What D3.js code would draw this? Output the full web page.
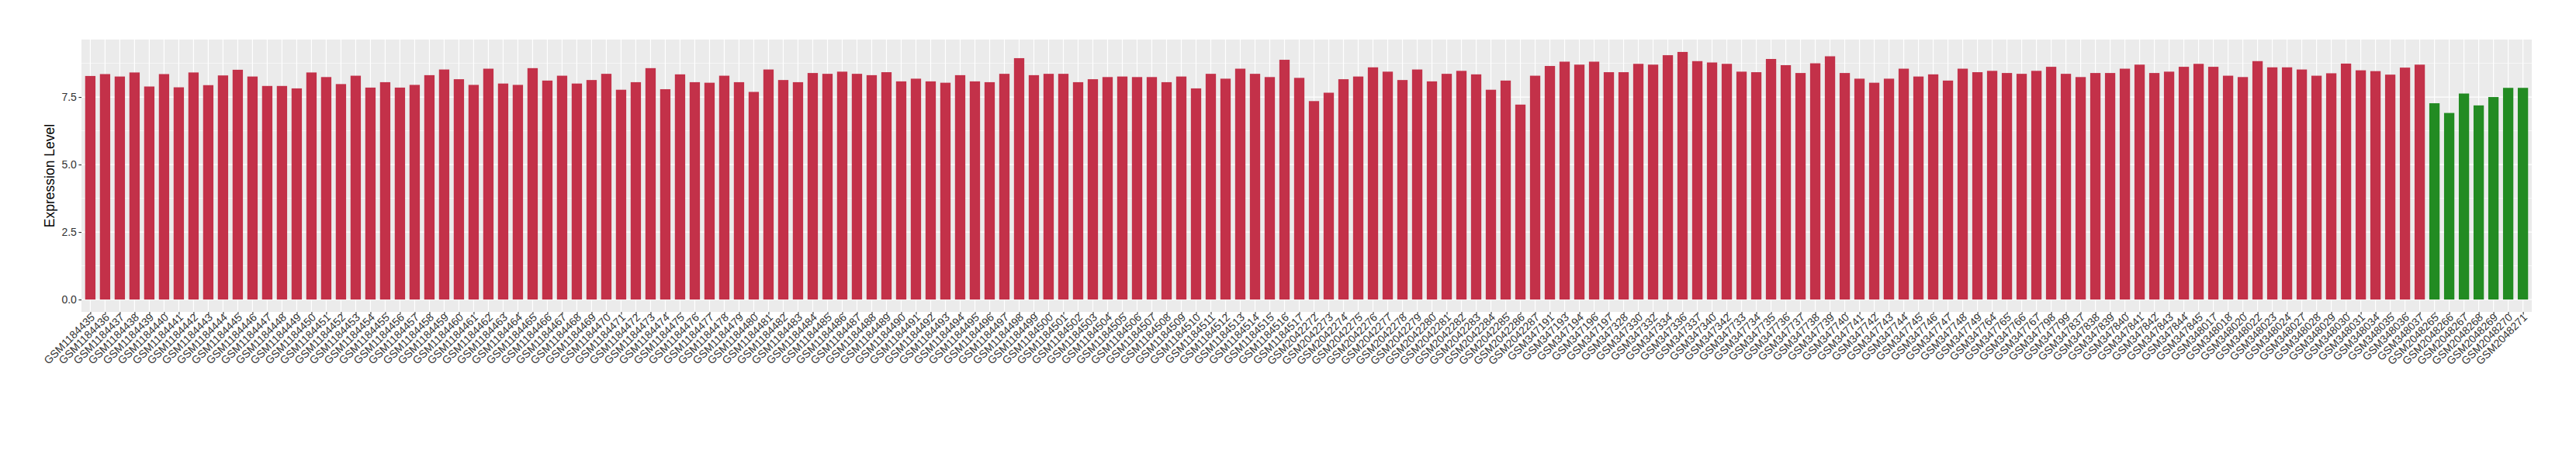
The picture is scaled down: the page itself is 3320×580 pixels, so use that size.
<!DOCTYPE html>
<html>
<head>
<meta charset="utf-8">
<script src="https://cdn.jsdelivr.net/npm/d3@7"></script>
<style>
  html, body { margin: 0; padding: 0; background: #ffffff; }
  svg { display: block; }
</style>
</head>
<body>
<svg id="chart" width="3320" height="580"></svg>
<script>
// ---------------- DATA ----------------
const tumorSamples = [
  "GSM1184435","GSM1184436","GSM1184437","GSM1184438","GSM1184439","GSM1184440","GSM1184441","GSM1184442","GSM1184443","GSM1184444",
  "GSM1184445","GSM1184446","GSM1184447","GSM1184448","GSM1184449","GSM1184450","GSM1184451","GSM1184452","GSM1184453","GSM1184454",
  "GSM1184455","GSM1184456","GSM1184457","GSM1184458","GSM1184459","GSM1184460","GSM1184461","GSM1184462","GSM1184463","GSM1184464",
  "GSM1184465","GSM1184466","GSM1184467","GSM1184468","GSM1184469","GSM1184470","GSM1184471","GSM1184472","GSM1184473","GSM1184474",
  "GSM1184475","GSM1184476","GSM1184477","GSM1184478","GSM1184479","GSM1184480","GSM1184481","GSM1184482","GSM1184483","GSM1184484",
  "GSM1184485","GSM1184486","GSM1184487","GSM1184488","GSM1184489","GSM1184490","GSM1184491","GSM1184492","GSM1184493","GSM1184494",
  "GSM1184495","GSM1184496","GSM1184497","GSM1184498","GSM1184499","GSM1184500","GSM1184501","GSM1184502","GSM1184503","GSM1184504",
  "GSM1184505","GSM1184506","GSM1184507","GSM1184508","GSM1184509","GSM1184510","GSM1184511","GSM1184512","GSM1184513","GSM1184514",
  "GSM1184515","GSM1184516","GSM1184517",
  "GSM2042272","GSM2042273","GSM2042274","GSM2042275","GSM2042276","GSM2042277","GSM2042278","GSM2042279","GSM2042280","GSM2042281",
  "GSM2042282","GSM2042283","GSM2042284","GSM2042285","GSM2042286","GSM2042287",
  "GSM347191","GSM347193","GSM347194","GSM347196","GSM347197",
  "GSM347328","GSM347330","GSM347332","GSM347334","GSM347336","GSM347337","GSM347340","GSM347342",
  "GSM347733","GSM347734","GSM347735","GSM347736","GSM347737","GSM347738","GSM347739","GSM347740","GSM347741","GSM347742",
  "GSM347743","GSM347744","GSM347745","GSM347746","GSM347747","GSM347748","GSM347749",
  "GSM347764","GSM347765","GSM347766","GSM347767","GSM347798","GSM347799",
  "GSM347837","GSM347838","GSM347839","GSM347840","GSM347841","GSM347842","GSM347843","GSM347844","GSM347845",
  "GSM348017","GSM348018","GSM348020","GSM348022","GSM348023","GSM348024","GSM348027","GSM348028","GSM348029","GSM348030",
  "GSM348031","GSM348034","GSM348035","GSM348036","GSM348037"
];
const tumorValues = [
  8.28, 8.35, 8.26, 8.41, 7.89, 8.35, 7.86, 8.41, 7.94, 8.30,
  8.51, 8.26, 7.91, 7.91, 7.82, 8.41, 8.24, 7.98, 8.29, 7.85,
  8.05, 7.85, 7.95, 8.31, 8.52, 8.16, 7.95, 8.55, 8.00, 7.95,
  8.57, 8.11, 8.29, 8.00, 8.13, 8.36, 7.77, 8.05, 8.57, 7.79,
  8.34, 8.05, 8.03, 8.29, 8.05, 7.69, 8.52, 8.13, 8.05, 8.39,
  8.36, 8.44, 8.36, 8.31, 8.42, 8.08, 8.18, 8.08, 8.03, 8.31,
  8.08, 8.05, 8.36, 8.94, 8.31, 8.36, 8.36, 8.05, 8.16, 8.24,
  8.26, 8.24, 8.24, 8.05, 8.26, 7.82, 8.36, 8.18, 8.55, 8.36,
  8.24, 8.88, 8.21,
  7.35, 7.66, 8.16, 8.26, 8.60, 8.44, 8.13, 8.52, 8.08, 8.36,
  8.47, 8.34, 7.77, 8.11, 7.22, 8.29,
  8.65, 8.81, 8.70, 8.81, 8.42,
  8.42, 8.73, 8.70, 9.05, 9.17, 8.83, 8.78, 8.73,
  8.44, 8.42, 8.91, 8.68, 8.39, 8.75, 9.01, 8.39, 8.18, 8.03,
  8.18, 8.55, 8.26, 8.34, 8.11, 8.55, 8.42,
  8.47, 8.39, 8.36, 8.47, 8.62, 8.36,
  8.24, 8.39, 8.39, 8.55, 8.70, 8.39, 8.44, 8.62, 8.73,
  8.62, 8.29, 8.24, 8.83, 8.60, 8.60, 8.52, 8.29, 8.38, 8.74,
  8.49, 8.46, 8.33, 8.59, 8.70
];
const normalSamples = ["GSM2048265","GSM2048266","GSM2048267","GSM2048268","GSM2048269","GSM2048270","GSM2048271"];
const normalValues  = [7.27, 6.91, 7.63, 7.19, 7.50, 7.84, 7.84];
const yTicks = [0, 2.5, 5.0, 7.5];
const yTitle = "Expression Level";

// ---------------- BUILD ----------------
const rows = tumorSamples.map((s, i) => ({ sample: s, value: tumorValues[i], group: "tumor" }))
  .concat(normalSamples.map((s, i) => ({ sample: s, value: normalValues[i], group: "normal" })));
const colors = { tumor: "#C33149", normal: "#228B22" };

const panel = { left: 105, right: 3263, top: 51, bottom: 402 };
const svg = d3.select("#chart");
const font = "'Liberation Sans', Arial, Helvetica, sans-serif";

const x = d3.scalePoint()
  .domain(rows.map(d => d.sample))
  .range([panel.left, panel.right])
  .padding(0.6);
const step = x.step();
const barW = step * 0.7;

const maxV = d3.max(rows, d => d.value);
const y = d3.scaleLinear()
  .domain([-0.05 * maxV, maxV * 1.05])
  .range([panel.bottom, panel.top]);

// panel background
svg.append("rect")
  .attr("x", panel.left).attr("y", panel.top)
  .attr("width", panel.right - panel.left).attr("height", panel.bottom - panel.top)
  .attr("fill", "#EBEBEB");

const grid = svg.append("g");
// minor horizontal grid
const minor = [];
for (let i = 0; i < yTicks.length; i++) {
  const m = yTicks[i] + (yTicks[1] - yTicks[0]) / 2;
  if (m < y.domain()[1]) minor.push(m);
}
grid.selectAll("line.minor").data(minor).join("line")
  .attr("x1", panel.left).attr("x2", panel.right)
  .attr("y1", d => y(d)).attr("y2", d => y(d))
  .attr("stroke", "#FFFFFF").attr("stroke-width", 0.6);
// major horizontal grid
grid.selectAll("line.hmaj").data(yTicks).join("line")
  .attr("x1", panel.left).attr("x2", panel.right)
  .attr("y1", d => y(d)).attr("y2", d => y(d))
  .attr("stroke", "#FFFFFF").attr("stroke-width", 1.2);
// vertical grid
grid.selectAll("line.vmaj").data(x.domain()).join("line")
  .attr("x1", d => x(d)).attr("x2", d => x(d))
  .attr("y1", panel.top).attr("y2", panel.bottom)
  .attr("stroke", "#FFFFFF").attr("stroke-width", 1.2);

// bars
svg.append("g").selectAll("rect").data(rows).join("rect")
  .attr("x", d => x(d.sample) - barW / 2)
  .attr("width", barW)
  .attr("y", d => y(d.value))
  .attr("height", d => y(0) - y(d.value))
  .attr("fill", d => colors[d.group]);

// y axis
const yAxis = d3.axisLeft(y).tickValues(yTicks).tickFormat(d3.format(".1f")).tickSize(3.6).tickPadding(2.5);
const gy = svg.append("g").attr("transform", `translate(${panel.left},0)`).call(yAxis);
gy.select(".domain").remove();
gy.selectAll(".tick line").attr("stroke", "#333333").attr("stroke-width", 1.1);
gy.selectAll(".tick text").attr("fill", "#333333").attr("font-size", "14px").attr("font-family", font);

// x axis
const xAxis = d3.axisBottom(x).tickSize(3.6).tickSizeOuter(0);
const gx = svg.append("g").attr("transform", `translate(0,${panel.bottom})`).call(xAxis);
gx.select(".domain").remove();
gx.selectAll(".tick line").attr("stroke", "#333333").attr("stroke-width", 1.1);
gx.selectAll(".tick text")
  .attr("fill", "#333333")
  .attr("font-size", "14px")
  .attr("font-family", font)
  .attr("text-anchor", "end")
  .attr("dy", null)
  .attr("y", null)
  .attr("transform", "translate(6,8) rotate(-45)");

// y title
svg.append("text")
  .attr("transform", `translate(69.5,${(panel.top + panel.bottom) / 2}) rotate(-90)`)
  .attr("text-anchor", "middle")
  .attr("font-family", font)
  .attr("font-size", "17.5px")
  .attr("fill", "#000000")
  .text(yTitle);
</script>
</body>
</html>
